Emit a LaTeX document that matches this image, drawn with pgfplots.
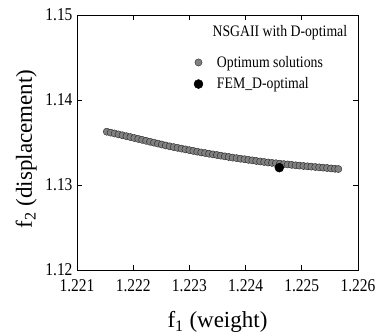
\documentclass[border=0pt]{standalone}
\usepackage{fontspec}
\setmainfont{Liberation Serif}
\newfontfamily\condfont[FakeStretch=0.86]{Liberation Serif}
\usepackage{pgfplots}
\pgfplotsset{compat=1.18}
\begin{document}
\begin{tikzpicture}
\useasboundingbox (0,0) rectangle (382bp,334bp);
\begin{axis}[
  at={(77bp,64bp)}, anchor=south west,
  scale only axis, width=281bp, height=255bp,
  xmin=1.221, xmax=1.226, ymin=1.12, ymax=1.15,
  scaled ticks=false,
  xtick={1.221,1.222,1.223,1.224,1.225,1.226},
  xticklabels={1.221,1.222,1.223,1.224,1.225,1.226},
  ytick={1.12,1.13,1.14,1.15},
  yticklabels={1.12,1.13,1.14,1.15},
  tick align=inside, major tick length=5bp,
  minor tick num=0,
  axis line style={line width=0.8bp},
  every tick/.style={black, line width=0.8bp},
  ticklabel style={font=\condfont\fontsize{18bp}{20bp}\selectfont},
  xticklabel style={yshift=-6bp},
  yticklabel style={xshift=-1bp},
  xlabel={f\textsubscript{1} (weight)},
  ylabel={f\textsubscript{2} (displacement)},
  label style={font=\fontsize{23bp}{26bp}\selectfont},
  xlabel style={at={(axis description cs:0.5,-0.204)}, anchor=center},
  ylabel style={at={(axis description cs:-0.181,0.475)}, anchor=center, rotate=0},
  legend style={at={(rel axis cs:0.405,0.855)}, anchor=north west, draw=none, fill=none,
    font=\condfont\fontsize{16bp}{18bp}\selectfont, row sep=5bp,
    /tikz/every odd column/.append style={column sep=12bp}},
  legend cell align=left,
]
\addplot[only marks, mark=*, mark size=3.6bp,
  mark options={fill=black!50, draw=black!85, line width=0.4bp}] coordinates {
(1.22153,1.13627) (1.22160,1.13616) (1.22167,1.13606) (1.22174,1.13595)
(1.22181,1.13585) (1.22188,1.13574) (1.22195,1.13564) (1.22202,1.13553)
(1.22209,1.13542) (1.22216,1.13531) (1.22223,1.13520) (1.22230,1.13509)
(1.22237,1.13498) (1.22244,1.13487) (1.22251,1.13476) (1.22258,1.13465)
(1.22265,1.13455) (1.22272,1.13446) (1.22279,1.13437) (1.22286,1.13428)
(1.22293,1.13419) (1.22300,1.13410) (1.22307,1.13401) (1.22314,1.13392)
(1.22321,1.13383) (1.22328,1.13376) (1.22335,1.13368) (1.22342,1.13360)
(1.22349,1.13353) (1.22356,1.13345) (1.22363,1.13337) (1.22370,1.13330)
(1.22377,1.13322) (1.22384,1.13316) (1.22391,1.13309) (1.22398,1.13303)
(1.22405,1.13296) (1.22412,1.13290) (1.22419,1.13283) (1.22426,1.13277)
(1.22433,1.13271) (1.22440,1.13265) (1.22447,1.13260) (1.22454,1.13256)
(1.22461,1.13251) (1.22468,1.13246) (1.22475,1.13242) (1.22482,1.13237)
(1.22489,1.13232) (1.22496,1.13228) (1.22503,1.13224) (1.22510,1.13220)
(1.22517,1.13216) (1.22524,1.13212) (1.22531,1.13208) (1.22538,1.13204)
(1.22545,1.13200) (1.22552,1.13195) (1.22559,1.13191) (1.22565,1.13188)
};
\addlegendentry{Optimum solutions}
\addplot[only marks, mark=*, mark size=4.5bp, black] coordinates {(1.22460,1.13204)};
\addlegendentry{FEM\_D-optimal}
\node[font=\condfont\fontsize{16bp}{18bp}\selectfont, anchor=center] at (rel axis cs:0.722,0.929) {NSGAII with D-optimal};
\end{axis}
\end{tikzpicture}
\end{document}
